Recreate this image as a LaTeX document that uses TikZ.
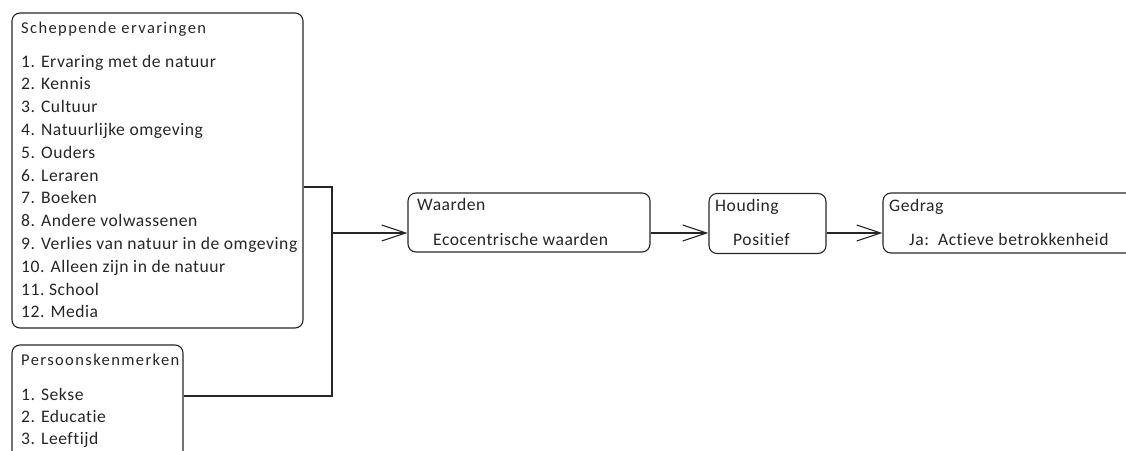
\documentclass[tikz,border=0pt]{standalone}
\usepackage{fontspec}
\setmainfont{Carlito}
\newfontfamily\itemfont[LetterSpace=3,Ligatures=NoCommon]{Carlito}
\newfontfamily\headfont[LetterSpace=8.5,Ligatures=NoCommon]{Carlito}
\usetikzlibrary{arrows.meta}
\begin{document}
\begin{tikzpicture}[x=1pt,y=-1pt,
  box/.style={draw=black!85, line width=1.1pt, rounded corners=8pt, inner sep=0pt},
  txt/.style={anchor=base west, inner sep=0pt, font=\itemfont\fontsize{17.6}{20}\selectfont, text=black!85},
  head/.style={txt, font=\headfont\fontsize{16.5}{20}\selectfont},
  conn/.style={draw=black!85, line width=1.1pt},
  arr/.style={conn, -{Straight Barb[length=24pt,width=16pt,line width=1.1pt]}}]
\useasboundingbox (0,0) rectangle (1126,450);
% boxes
\node[box, minimum width=291pt, minimum height=315pt] (b1) at (157.5,170.5) {};
\node[box, minimum width=171pt, minimum height=125pt] (b2) at (97.5,407.5) {};
\node[box, minimum width=242pt, minimum height=59pt] (w) at (529,222.5) {};
\node[box, minimum width=117pt, minimum height=60pt] (h) at (767.5,223.5) {};
\node[box, minimum width=262pt, minimum height=60pt] (g) at (1014,223) {};
% texts box 1
\node[head] (t0) at (21,33) {Scheppende ervaringen};
\foreach \i/\s in {1/{1. Ervaring met de natuur},2/{2. Kennis},3/{3. Cultuur},4/{4. Natuurlijke omgeving},5/{5. Ouders},6/{6. Leraren},7/{7. Boeken},8/{8. Andere volwassenen},9/{9. Verlies van natuur in de omgeving},10/{10. Alleen zijn in de natuur},11/{11.\ School},12/{12. Media}}
  \node[txt] (t\i) at (21,{67+22.8*(\i-1)}) {\s};
% texts box 2
\node[head] (p0) at (21,365) {Persoonskenmerken};
\node[txt] (p1) at (21,400) {1. Sekse};
\node[txt] (p2) at (21,422) {2. Educatie};
\node[txt] (p3) at (21,444) {3. Leeftijd};
% other texts
\node[txt] (wt) at (417,210) {Waarden};
\node[txt] (ws) at (433,245) {Ecocentrische waarden};
\node[txt] (ht) at (715,211) {Houding};
\node[txt] (hs) at (733,245) {Positief};
\node[txt] (gt) at (889,211) {Gedrag};
\node[txt] (gs) at (909,245) {Ja:\ \ Actieve betrokkenheid};
% connectors
\coordinate (j1) at (332,187);
\coordinate (j2) at (332,396);
\coordinate (j3) at (332,233);
\draw[conn] (b1.east |- j1) -- (j1) -- (j2) -- (b2.east |- j2);
\draw[arr] (j3) -- (w.west |- j3);
\draw[arr] (w.east |- j3) -- (h.west |- j3);
\draw[arr] (h.east |- j3) -- (g.west |- j3);
\end{tikzpicture}
\end{document}
